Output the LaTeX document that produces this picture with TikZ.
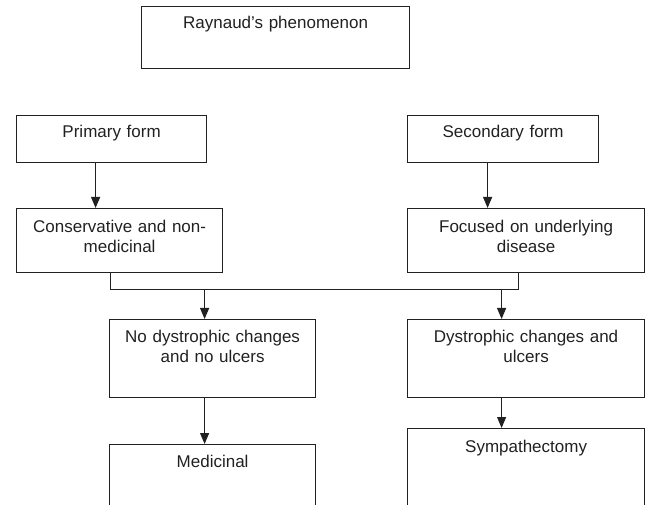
\documentclass[tikz,border=0pt]{standalone}
\usepackage{fontspec}
\setmainfont{Liberation Sans}
\usetikzlibrary{arrows.meta}
\definecolor{inkgray}{rgb}{0.13, 0.13, 0.13}

\begin{document}
\begin{tikzpicture}[x=1pt, y=-1pt,
		box/.style={draw=inkgray, text=inkgray, line width=1.2pt, align=center, inner sep=0pt, text height=22pt, font=\fontsize{17}{20}\selectfont},
		link/.style={draw=inkgray, line width=1.2pt},
		arr/.style={link, -{Triangle[length=11pt, width=9pt]}}]
			\useasboundingbox (0,0) rectangle (646,505);
			\clip (0,0) rectangle (646,505);
			
			\node[box, anchor=north west, text width=268pt, text depth=40pt] (rayn) at (141,6) {Raynaud’s phenomenon};
			
			\node[box, anchor=north west, text width=190pt, text depth=25pt] (prim) at (16,115) {Primary form};
			\node[box, anchor=north west, text width=191pt, text depth=25pt] (sec) at (407,115) {Secondary form};
			
			\node[box, anchor=north west, text width=206pt, text depth=40pt, text height=24pt] (cons) at (16,208) {Conservative and non-\\medicinal};
			\node[box, anchor=north west, text width=237pt, text depth=40pt, text height=24pt] (foc) at (407,208) {Focused on underlying\\disease};
			
			\node[box, anchor=north west, text width=206pt, text depth=55pt, text height=23pt] (nodys) at (109,319) {No dystrophic changes\\and no ulcers};
			\node[box, anchor=north west, text width=237pt, text depth=55pt, text height=23pt] (dys) at (407,319) {Dystrophic changes and\\ulcers};
			
			\node[box, anchor=north west, text width=206pt, text depth=77pt, text height=23pt] (med) at (109,444) {Medicinal};
			\node[box, anchor=north west, text width=237pt, text depth=76pt, text height=24pt] (symp) at (407,428) {Sympathectomy};
			
			\draw[arr] ([xshift=-16pt]prim.south) -- ([xshift=-16pt]prim.south |- cons.north);
			\draw[arr] ([xshift=-15.5pt]sec.south) -- ([xshift=-15.5pt]sec.south |- foc.north);
			
			\coordinate (jl) at ([xshift=-9pt, yshift=-16pt]cons.south);
			\coordinate (jr) at ([xshift=-7.5pt]foc.south |- jl);
			\draw[link] ([xshift=-9pt]cons.south) -- (jl) -- (jr) -- ([xshift=-7.5pt]foc.south);
			
			\draw[arr] ([xshift=-8pt]nodys.north |- jl) -- ([xshift=-8pt]nodys.north);
			\draw[arr] ([xshift=-24.5pt]dys.north |- jr) -- ([xshift=-24.5pt]dys.north);
			
			\draw[arr] ([xshift=-8pt]nodys.south) -- ([xshift=-8pt]nodys.south |- med.north);
			\draw[arr] ([xshift=-24.5pt]dys.south) -- ([xshift=-24.5pt]dys.south |- symp.north);
			
			\end{tikzpicture}
\end{document}
